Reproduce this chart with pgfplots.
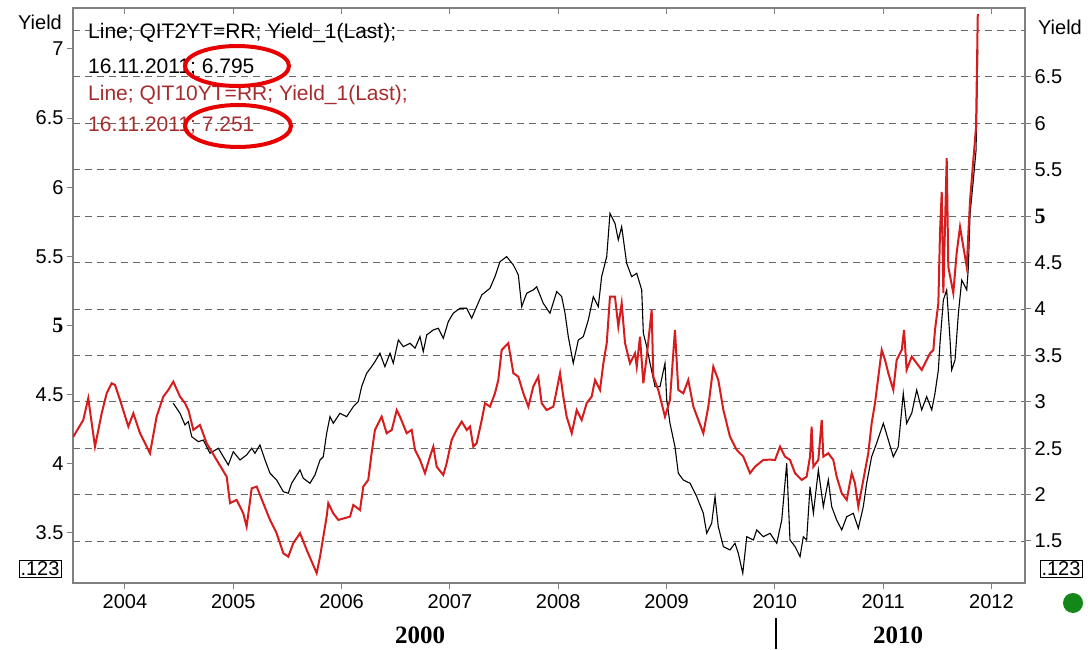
\documentclass[border=0pt]{standalone}
\usepackage{fontspec}
\setmainfont{Liberation Sans}
\newfontfamily\timesf{Liberation Serif}
\usepackage{pgfplots}
\pgfplotsset{compat=1.18}
\definecolor{redline}{RGB}{214,28,28}
\definecolor{redtext}{RGB}{165,45,45}
\definecolor{framegray}{RGB}{128,128,128}
\definecolor{gridgray}{RGB}{105,105,105}
\definecolor{dotgreen}{RGB}{20,135,25}
\definecolor{ringred}{RGB}{232,0,0}

\begin{document}
\begin{tikzpicture}[x=1pt,y=1pt]
\useasboundingbox (-73,-66) rectangle (1015,583);

% right scale, 2y yield (black)
\begin{axis}[
  at={(0,0)}, anchor=south west,
  scale only axis, width=952pt, height=575pt,
  xmin=2003.52, xmax=2012.31,
  ymin=1.047, ymax=7.243,
  axis line style={framegray, line width=1.2pt},
  xtick={2004,2005,2006,2007,2008,2009,2010,2011,2012},
  xtick pos=left,
  ytick={1.5,2,2.5,3,3.5,4,4.5,5,5.5,6,6.5},
  yticklabels={1.5,2,2.5,3,3.5,4,4.5,{\timesf\bfseries\fontsize{22}{24}\selectfont 5},5.5,6,6.5},
  extra y ticks={7}, extra y tick labels={},
  extra y tick style={grid=major, major tick length=0pt},
  ytick pos=right, yticklabel pos=right,
  tick align=outside, major tick length=6pt,
  tick style={framegray, line width=1pt},
  ymajorgrids,
  grid style={gridgray, dash pattern=on 7pt off 5pt, line width=0.9pt},
  /pgf/number format/assume math mode=true,
  /pgf/number format/1000 sep={},
  tick label style={font=\fontsize{20}{22}\selectfont},
  xticklabel style={yshift=-2pt},
]
\addplot[black, line width=1.1pt] coordinates {
(2004.446,2.984) (2004.508,2.876) (2004.554,2.750) (2004.585,2.786) (2004.616,2.624)
(2004.677,2.570) (2004.723,2.588) (2004.785,2.445) (2004.862,2.499) (2004.908,2.408)
(2004.954,2.319) (2005.000,2.462) (2005.062,2.373) (2005.123,2.427) (2005.170,2.499)
(2005.200,2.445) (2005.246,2.534) (2005.293,2.373) (2005.339,2.230) (2005.400,2.157)
(2005.462,2.031) (2005.508,2.014) (2005.539,2.122) (2005.616,2.265) (2005.646,2.176)
(2005.708,2.122) (2005.754,2.211) (2005.801,2.373) (2005.831,2.408) (2005.862,2.660)
(2005.893,2.840) (2005.923,2.768) (2005.985,2.876) (2006.047,2.840) (2006.108,2.947)
(2006.154,3.001) (2006.185,3.163) (2006.231,3.307) (2006.277,3.378) (2006.308,3.432)
(2006.354,3.523) (2006.400,3.378) (2006.447,3.523) (2006.477,3.415) (2006.524,3.666)
(2006.570,3.594) (2006.632,3.630) (2006.678,3.577) (2006.724,3.702) (2006.754,3.540)
(2006.786,3.720) (2006.847,3.774) (2006.893,3.792) (2006.939,3.684) (2006.985,3.863)
(2007.031,3.954) (2007.093,4.008) (2007.155,4.008) (2007.201,3.900) (2007.247,4.025)
(2007.294,4.151) (2007.370,4.223) (2007.416,4.348) (2007.463,4.510) (2007.524,4.564)
(2007.586,4.474) (2007.632,4.366) (2007.663,4.025) (2007.709,4.169) (2007.770,4.205)
(2007.801,4.240) (2007.862,4.061) (2007.924,3.954) (2007.986,4.187) (2008.032,4.133)
(2008.063,3.954) (2008.093,3.702) (2008.139,3.415) (2008.186,3.666) (2008.232,3.702)
(2008.278,3.881) (2008.324,4.133) (2008.370,4.025) (2008.401,4.348) (2008.448,4.564)
(2008.478,5.031) (2008.524,4.924) (2008.555,4.744) (2008.586,4.887) (2008.632,4.492)
(2008.678,4.348) (2008.725,4.384) (2008.771,4.205) (2008.786,3.738) (2008.817,3.594)
(2008.848,3.415) (2008.894,3.163) (2008.940,3.163) (2008.986,3.415) (2009.002,3.019)
(2009.032,2.768) (2009.078,2.516) (2009.109,2.230) (2009.155,2.157) (2009.217,2.122)
(2009.279,1.977) (2009.340,1.798) (2009.371,1.583) (2009.417,1.691) (2009.448,1.977)
(2009.478,1.654) (2009.525,1.439) (2009.586,1.403) (2009.632,1.475) (2009.663,1.367)
(2009.704,1.152) (2009.741,1.546) (2009.802,1.511) (2009.833,1.619) (2009.894,1.546)
(2009.956,1.583) (2010.018,1.475) (2010.064,1.726) (2010.110,2.337) (2010.140,1.511)
(2010.187,1.439) (2010.233,1.331) (2010.263,1.546) (2010.294,1.511) (2010.325,2.085)
(2010.356,1.798) (2010.402,2.265) (2010.448,1.870) (2010.494,2.157) (2010.525,1.870)
(2010.571,1.726) (2010.618,1.619) (2010.664,1.762) (2010.725,1.798) (2010.771,1.637)
(2010.817,1.870) (2010.848,2.122) (2010.894,2.408) (2010.940,2.553) (2011.002,2.768)
(2011.048,2.588) (2011.094,2.408) (2011.140,2.516) (2011.186,3.092) (2011.217,2.768)
(2011.264,2.876) (2011.310,3.127) (2011.356,2.912) (2011.402,3.055) (2011.449,2.912)
(2011.479,3.092) (2011.510,3.343) (2011.525,3.630) (2011.556,4.097) (2011.587,4.205)
(2011.618,3.666) (2011.633,3.343) (2011.664,3.450) (2011.695,3.954) (2011.726,4.312)
(2011.772,4.205) (2011.787,4.450) (2011.803,5.030) (2011.833,5.390) (2011.858,5.710)
(2011.874,6.795)
};
\end{axis}

% left scale, 10y yield (red)
\begin{axis}[
  at={(0,0)}, anchor=south west,
  scale only axis, width=952pt, height=575pt,
  xmin=2003.52, xmax=2012.31,
  ymin=3.138, ymax=7.296,
  axis line style={draw=none},
  xtick={2004,2005,2006,2007,2008,2009,2010,2011,2012},
  xticklabels={},
  xtick pos=right, xtick align=inside,
  ytick={3.5,4,4.5,5,5.5,6,6.5,7},
  yticklabels={3.5,4,4.5,{\timesf\bfseries\fontsize{22}{24}\selectfont 5},5.5,6,6.5,7},
  ytick pos=left, yticklabel pos=left, ytick align=outside,
  major tick length=6pt,
  tick style={framegray, line width=1pt},
  tick label style={font=\fontsize{20}{22}\selectfont},
]
\addplot[redline, line width=2pt] coordinates {
(2003.523,4.196) (2003.615,4.317) (2003.661,4.474) (2003.723,4.124) (2003.785,4.365)
(2003.831,4.510) (2003.877,4.582) (2003.908,4.570) (2003.954,4.462) (2004.031,4.269)
(2004.077,4.365) (2004.139,4.221) (2004.231,4.076) (2004.292,4.341) (2004.354,4.486)
(2004.400,4.534) (2004.446,4.594) (2004.508,4.486) (2004.554,4.438) (2004.585,4.389)
(2004.631,4.245) (2004.692,4.281) (2004.754,4.149) (2004.846,4.028) (2004.939,3.907)
(2004.970,3.715) (2005.031,3.739) (2005.092,3.642) (2005.123,3.546) (2005.170,3.823)
(2005.216,3.835) (2005.277,3.715) (2005.339,3.594) (2005.400,3.498) (2005.462,3.353)
(2005.508,3.329) (2005.554,3.426) (2005.616,3.498) (2005.678,3.377) (2005.724,3.293)
(2005.770,3.209) (2005.801,3.329) (2005.862,3.618) (2005.877,3.715) (2005.923,3.642)
(2005.970,3.594) (2006.078,3.618) (2006.108,3.702) (2006.170,3.666) (2006.200,3.835)
(2006.246,3.883) (2006.277,4.076) (2006.308,4.245) (2006.370,4.341) (2006.416,4.221)
(2006.463,4.245) (2006.509,4.389) (2006.539,4.341) (2006.601,4.221) (2006.647,4.245)
(2006.678,4.100) (2006.724,4.028) (2006.770,3.932) (2006.816,4.052) (2006.847,4.124)
(2006.878,3.979) (2006.939,3.919) (2006.970,4.004) (2007.016,4.172) (2007.062,4.245)
(2007.109,4.305) (2007.155,4.245) (2007.186,4.269) (2007.216,4.124) (2007.247,4.149)
(2007.294,4.317) (2007.324,4.438) (2007.370,4.413) (2007.416,4.510) (2007.447,4.606)
(2007.478,4.823) (2007.539,4.872) (2007.586,4.655) (2007.632,4.630) (2007.678,4.510)
(2007.724,4.413) (2007.770,4.558) (2007.816,4.630) (2007.847,4.438) (2007.893,4.389)
(2007.955,4.413) (2008.017,4.655) (2008.047,4.486) (2008.078,4.341) (2008.125,4.221)
(2008.171,4.389) (2008.217,4.317) (2008.263,4.438) (2008.309,4.486) (2008.340,4.606)
(2008.386,4.534) (2008.417,4.727) (2008.448,4.872) (2008.478,5.209) (2008.524,5.209)
(2008.555,4.992) (2008.586,5.161) (2008.617,4.872) (2008.663,4.727) (2008.709,4.799)
(2008.725,4.702) (2008.755,4.919) (2008.786,4.582) (2008.817,4.775) (2008.863,5.112)
(2008.878,4.630) (2008.924,4.534) (2008.955,4.438) (2008.986,4.341) (2009.032,4.462)
(2009.078,4.968) (2009.109,4.534) (2009.155,4.510) (2009.201,4.606) (2009.248,4.413)
(2009.294,4.317) (2009.340,4.221) (2009.386,4.413) (2009.432,4.702) (2009.478,4.606)
(2009.525,4.389) (2009.586,4.196) (2009.648,4.100) (2009.709,4.052) (2009.771,3.932)
(2009.817,3.979) (2009.894,4.028) (2009.956,4.030) (2010.002,4.028) (2010.048,4.124)
(2010.094,4.052) (2010.140,4.028) (2010.187,3.932) (2010.248,3.883) (2010.294,3.907)
(2010.325,4.052) (2010.340,4.269) (2010.356,3.979) (2010.402,4.028) (2010.433,4.317)
(2010.448,4.052) (2010.494,4.076) (2010.540,4.028) (2010.571,3.907) (2010.618,3.787)
(2010.664,3.739) (2010.710,3.932) (2010.740,3.859) (2010.771,3.690) (2010.817,3.883)
(2010.863,4.076) (2010.894,4.293) (2010.925,4.438) (2010.956,4.630) (2010.987,4.823)
(2011.018,4.751) (2011.048,4.655) (2011.094,4.534) (2011.125,4.751) (2011.172,4.823)
(2011.193,4.968) (2011.217,4.679) (2011.264,4.775) (2011.310,4.727) (2011.356,4.679)
(2011.402,4.751) (2011.433,4.799) (2011.464,4.823) (2011.479,4.968) (2011.510,5.161)
(2011.525,5.669) (2011.541,5.966) (2011.556,5.235) (2011.587,6.211) (2011.602,5.423)
(2011.648,5.235) (2011.679,5.525) (2011.710,5.713) (2011.741,5.568) (2011.772,5.423)
(2011.787,5.669) (2011.803,5.908) (2011.833,6.197) (2011.858,6.436) (2011.874,7.251)
};
\end{axis}

% header text and marks
\begin{scope}[font=\fontsize{21}{23}\selectfont]
\node[anchor=west, inner sep=0pt] at (15,550) {Line; QIT2YT=RR; Yield\_1(Last);};
\node[anchor=west, inner sep=0pt] at (15,515) {16.11.2011; 6.795};
\node[anchor=west, inner sep=0pt, text=redtext] at (15,488) {Line; QIT10YT=RR; Yield\_1(Last);};
\node[anchor=west, inner sep=0pt, text=redtext] at (15,457) {16.11.2011; 7.251};
\end{scope}
\begin{scope}[font=\fontsize{20}{22}\selectfont]
\node at (-33,561) {Yield};
\node at (987,556) {Yield};
\node[draw=black, line width=0.8pt, inner sep=1.5pt] at (-33,14) {.123};
\node[draw=black, line width=0.8pt, inner sep=1.5pt] at (988,14) {.123};
\end{scope}
\draw[ringred, line width=4pt] (164,517) ellipse [x radius=52, y radius=20];
\draw[ringred, line width=4pt] (165,457) ellipse [x radius=53, y radius=21];
\fill[dotgreen] (1000,-20) circle (10);
\node[font=\timesf\bfseries\fontsize{25}{27}\selectfont] at (347,-52) {2000};
\node[font=\timesf\bfseries\fontsize{25}{27}\selectfont] at (825,-52) {2010};
\draw[black, line width=1.2pt] (703,-35) -- (703,-66);
\end{tikzpicture}
\end{document}
